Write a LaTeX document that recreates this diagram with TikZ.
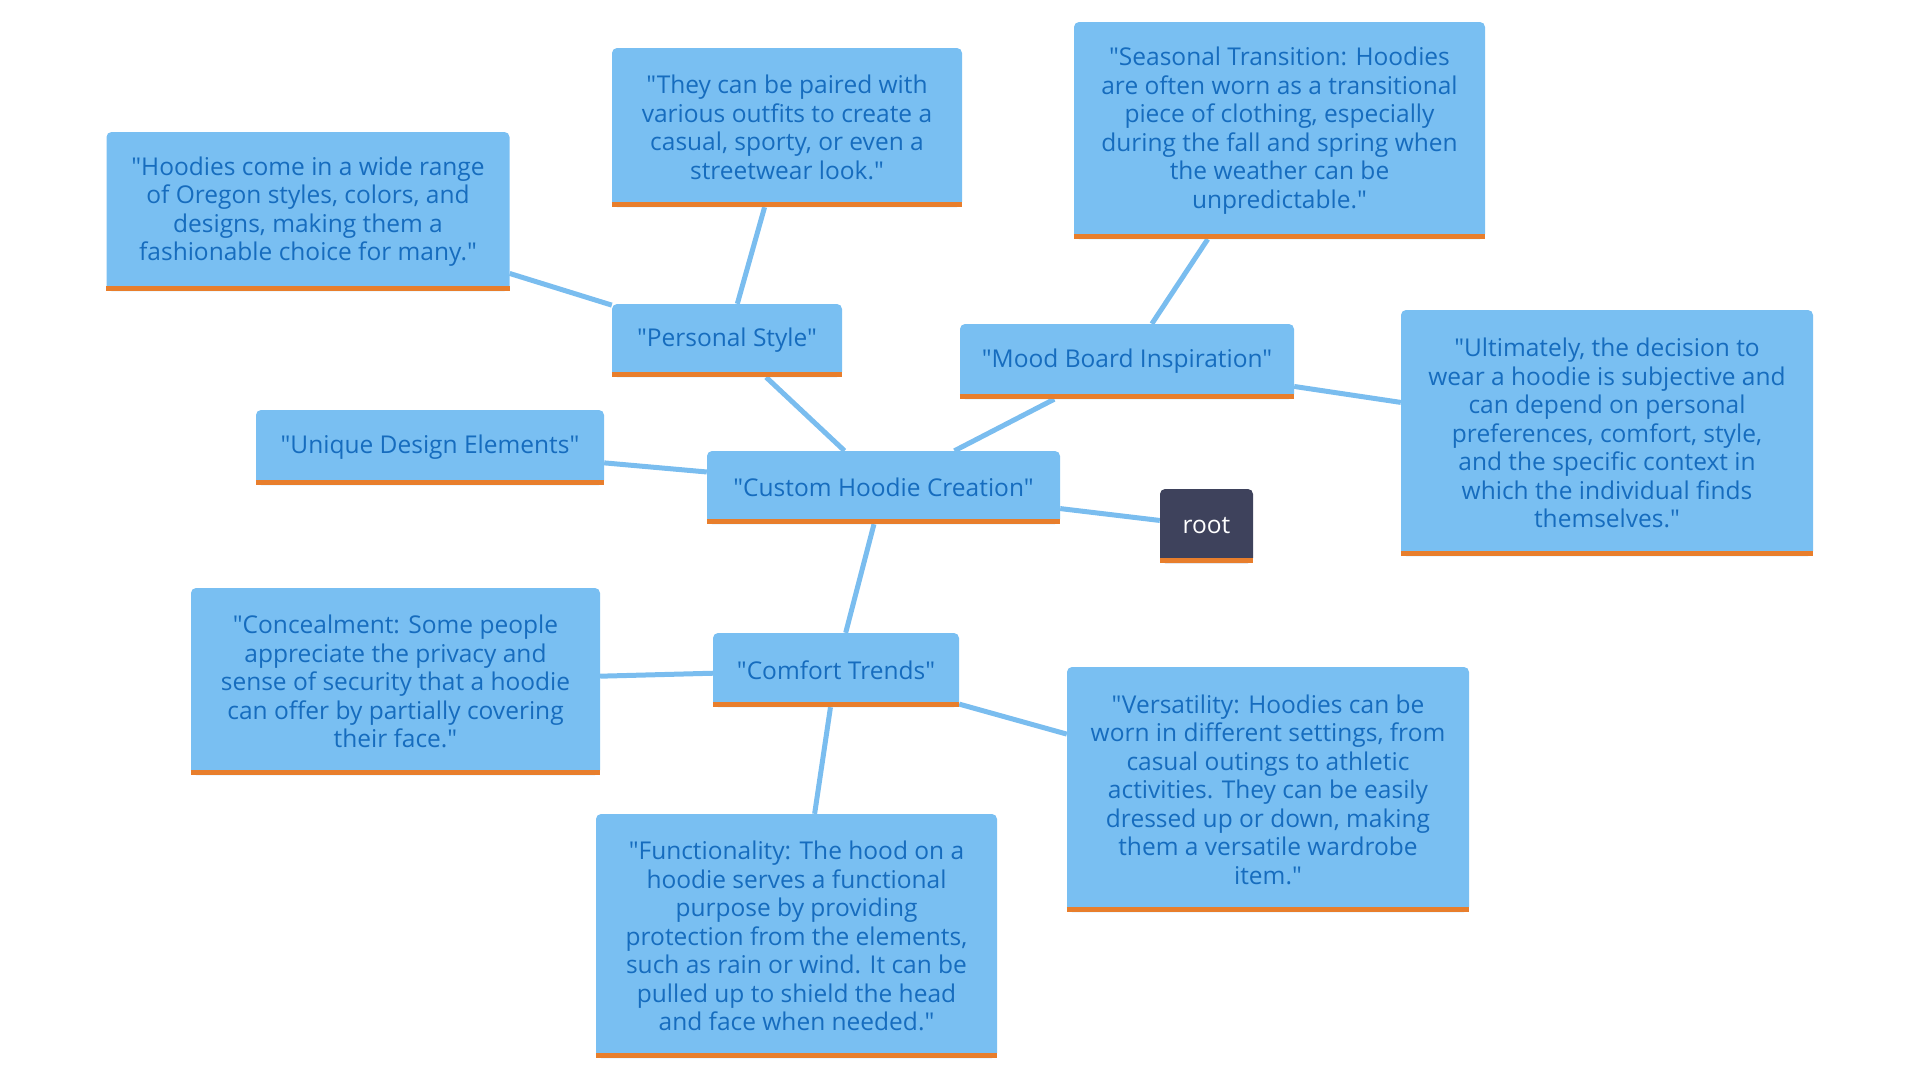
\documentclass[tikz,border=0pt]{standalone}
\usepackage{fontspec}
\setmainfont{Open Sans}[Ligatures=TeXOff]
\usetikzlibrary{backgrounds}

\definecolor{boxblue}{RGB}{121,191,242}
\definecolor{textblue}{RGB}{22,108,190}
\definecolor{edgeblue}{RGB}{122,189,239}
\definecolor{barorange}{RGB}{232,126,44}
\definecolor{rootgrey}{RGB}{62,66,92}

\begin{document}
\begin{tikzpicture}[x=1pt,y=-1pt,
	idea/.style={fill=boxblue, text=textblue, rounded corners=5pt, align=center,
		font=\fontsize{24.5}{28.5}\selectfont, inner sep=0pt},
	rootbox/.style={idea, fill=rootgrey, text=white},
	link/.style={draw=edgeblue, line width=5pt}]

	\useasboundingbox (0,0) rectangle (1920,1080);

	\node[idea, minimum width=403pt, minimum height=159pt] (hoodies) at (308,211.5)
		{"Hoodies come in a wide range\\of Oregon styles, colors, and\\designs, making them a\\fashionable choice for many."};
	\node[idea, minimum width=350pt, minimum height=159pt] (paired) at (787,127.5)
		{"They can be paired with\\various outfits to create a\\casual, sporty, or even a\\streetwear look."};
	\node[idea, minimum width=411pt, minimum height=217pt] (seasonal) at (1279.5,130.5)
		{"Seasonal Transition: Hoodies\\are often worn as a transitional\\piece of clothing, especially\\during the fall and spring when\\the weather can be\\unpredictable."};
	\node[idea, minimum width=230pt, minimum height=73pt] (personal) at (727,340.5)
		{"Personal Style"};
	\node[idea, minimum width=334pt, minimum height=75pt] (mood) at (1127,361.5)
		{"Mood Board Inspiration"};
	\node[idea, minimum width=412pt, minimum height=246pt] (ultimately) at (1607,433)
		{"Ultimately, the decision to\\wear a hoodie is subjective and\\can depend on personal\\preferences, comfort, style,\\and the specific context in\\which the individual finds\\themselves."};
	\node[idea, minimum width=348pt, minimum height=75pt] (unique) at (430,447.5)
		{"Unique Design Elements"};
	\node[idea, minimum width=353pt, minimum height=73pt] (custom) at (883.5,487.5)
		{"Custom Hoodie Creation"};
	\node[rootbox, minimum width=93pt, minimum height=74pt] (root) at (1206.5,526)
		{root};
	\node[idea, minimum width=409pt, minimum height=187pt] (conceal) at (395.5,681.5)
		{"Concealment: Some people\\appreciate the privacy and\\sense of security that a hoodie\\can offer by partially covering\\their face."};
	\node[idea, minimum width=246pt, minimum height=74pt] (comfort) at (836,670)
		{"Comfort Trends"};
	\node[idea, minimum width=402pt, minimum height=245pt] (versatility) at (1268,789.5)
		{"Versatility: Hoodies can be\\worn in different settings, from\\casual outings to athletic\\activities. They can be easily\\dressed up or down, making\\them a versatile wardrobe\\item."};
	\node[idea, minimum width=401pt, minimum height=244pt] (function) at (796.5,936)
		{"Functionality: The hood on a\\hoodie serves a functional\\purpose by providing\\protection from the elements,\\such as rain or wind. It can be\\pulled up to shield the head\\and face when needed."};

	% orange bars along the bottom
	\foreach \n in {hoodies,paired,seasonal,personal,mood,ultimately,unique,custom,root,conceal,comfort,versatility,function}
		\draw[barorange, line width=5pt] ([yshift=2.5pt]\n.south west) -- ([yshift=2.5pt]\n.south east);

	\begin{scope}[on background layer]
		\draw[link] (hoodies) -- (personal);
		\draw[link] (paired) -- (personal);
		\draw[link] (personal) -- (custom);
		\draw[link] (seasonal) -- (mood);
		\draw[link] (mood) -- (custom);
		\draw[link] (mood) -- (ultimately);
		\draw[link] (unique) -- (custom);
		\draw[link] (custom) -- (root);
		\draw[link] (custom) -- (comfort);
		\draw[link] (comfort) -- (conceal);
		\draw[link] (comfort) -- (versatility);
		\draw[link] (comfort) -- (function);
	\end{scope}
\end{tikzpicture}
\end{document}
